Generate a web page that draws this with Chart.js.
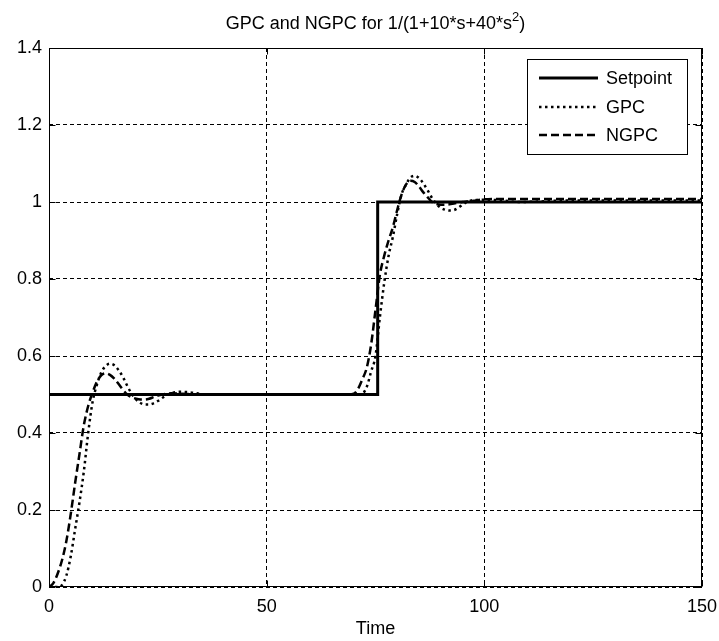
<!DOCTYPE html>
<html>
<head>
<meta charset="utf-8">
<title>GPC and NGPC</title>
<script src="https://cdn.jsdelivr.net/npm/chart.js@4.4.0/dist/chart.umd.min.js"></script>
<style>
body { margin: 0; background: #fff; }
</style>
</head>
<body>
<canvas id="chart" width="719" height="641"></canvas>
<script>
// sample times shared by the GPC and NGPC responses
const time = [0, 1, 2, 3, 4, 5, 6, 7, 8, 9, 10, 11, 12, 13, 14, 15, 16, 17, 18, 19, 20,
	21, 22, 23, 24, 25, 26, 27, 28, 30, 32, 34, 36, 40, 50, 60, 68, 70, 71, 72, 73, 74, 75,
	76, 77, 78, 79, 80, 81, 82, 83, 84, 85, 86, 87, 88, 89, 90, 91, 92, 93, 94, 95, 96, 97,
	98, 100, 104, 108, 112, 116, 120, 130, 140, 150]
const gpcValue = [0, 0, 0, 0.005, 0.03, 0.08, 0.15, 0.22, 0.3, 0.4, 0.48, 0.525, 0.557, 0.574, 0.58, 0.576, 0.563, 0.545, 0.522, 0.502, 0.487,
	0.478, 0.474, 0.474, 0.477, 0.483, 0.491, 0.498, 0.503, 0.507, 0.506, 0.503, 0.5, 0.5, 0.5, 0.5, 0.5, 0.5, 0.5, 0.502, 0.52, 0.56, 0.6,
	0.7, 0.79, 0.86, 0.91, 0.97, 1.02, 1.045, 1.063, 1.068, 1.062, 1.048, 1.03, 1.01, 0.995, 0.985, 0.98, 0.978, 0.979, 0.985, 0.993, 1.0, 1.004,
	1.005, 1.006, 1.004, 1.0, 1.001, 1.003, 1.004, 1.004, 1.004, 1.004]
const ngpcValue = [0, 0.01, 0.035, 0.07, 0.12, 0.19, 0.27, 0.345, 0.42, 0.47, 0.505, 0.533, 0.55, 0.555, 0.551, 0.541, 0.527, 0.512, 0.5, 0.493, 0.489,
	0.487, 0.487, 0.489, 0.493, 0.497, 0.5, 0.502, 0.503, 0.502, 0.501, 0.5, 0.5, 0.5, 0.5, 0.5, 0.5, 0.502, 0.515, 0.54, 0.57, 0.63, 0.72,
	0.81, 0.86, 0.9, 0.935, 0.98, 1.02, 1.045, 1.055, 1.052, 1.04, 1.025, 1.012, 1.0, 0.995, 0.993, 0.993, 0.994, 0.996, 0.998, 1.0, 1.001, 1.002,
	1.004, 1.007, 1.008, 1.008, 1.008, 1.008, 1.008, 1.008, 1.008, 1.008]
const setpointTime = [0, 75.5, 75.5, 150]
const setpointValue = [0.5, 0.5, 1, 1]

const xTicks = [0, 50, 100, 150]
const xTickLabels = ['0', '50', '100', '150']
const yTicks = [0, 0.2, 0.4, 0.6, 0.8, 1, 1.2, 1.4]
const yTickLabels = ['0', '0.2', '0.4', '0.6', '0.8', '1', '1.2', '1.4']

const titleText = 'GPC and NGPC for 1/(1+10*s+40*s'
const titleSup = '2'
const titleEnd = ')'
const xLabel = 'Time'
const FONT = '"Liberation Sans", Arial, sans-serif'

const toPoints = (xs, ys) => xs.map((x, i) => ({ x, y: ys[i] }))

// frame, inward ticks, title, x label and legend box (MATLAB look)
const matlabDecor = {
	id: 'matlabDecor',
	afterDraw(chart) {
		const { ctx, chartArea: a, scales } = chart
		ctx.save()
		ctx.strokeStyle = '#000'
		ctx.lineWidth = 1
		ctx.setLineDash([])
		const L = Math.round(a.left) + 0.5, R = Math.round(a.right) - 0.5
		const T = Math.round(a.top) + 0.5, B = Math.round(a.bottom) - 0.5
		ctx.strokeRect(L, T, R - L, B - T)
		ctx.beginPath()
		xTicks.forEach(v => {
			const px = Math.round(scales.x.getPixelForValue(v)) + 0.5
			ctx.moveTo(px, B); ctx.lineTo(px, B - 6)
			ctx.moveTo(px, T); ctx.lineTo(px, T + 6)
		})
		yTicks.forEach(v => {
			const py = Math.round(scales.y.getPixelForValue(v)) + 0.5
			ctx.moveTo(L, py); ctx.lineTo(L + 6, py)
			ctx.moveTo(R, py); ctx.lineTo(R - 6, py)
		})
		ctx.stroke()

		// title with superscript
		ctx.fillStyle = '#000'
		ctx.textBaseline = 'alphabetic'
		ctx.textAlign = 'left'
		ctx.font = '18px ' + FONT
		const w1 = ctx.measureText(titleText).width
		const w3 = ctx.measureText(titleEnd).width
		ctx.font = '13px ' + FONT
		const w2 = ctx.measureText(titleSup).width
		const cx = (a.left + a.right) / 2
		let tx = cx - (w1 + w2 + w3) / 2
		ctx.font = '18px ' + FONT
		ctx.fillText(titleText, tx, 29)
		ctx.font = '13px ' + FONT
		ctx.fillText(titleSup, tx + w1, 21)
		ctx.font = '18px ' + FONT
		ctx.fillText(titleEnd, tx + w1 + w2, 29)

		// x axis label
		ctx.textAlign = 'center'
		ctx.textBaseline = 'middle'
		ctx.fillText(xLabel, cx, 629)

		// legend
		const box = { x: 527, y: 59, w: 160, h: 95 }
		ctx.fillStyle = '#fff'
		ctx.fillRect(box.x, box.y, box.w, box.h)
		ctx.strokeRect(box.x + 0.5, box.y + 0.5, box.w, box.h)
		const rows = [78, 107, 135]
		chart.data.datasets.forEach((ds, i) => {
			ctx.save()
			ctx.strokeStyle = ds.borderColor
			ctx.lineWidth = ds.borderWidth
			ctx.setLineDash(ds.borderDash || [])
			ctx.beginPath()
			ctx.moveTo(539, rows[i]); ctx.lineTo(598, rows[i])
			ctx.stroke()
			ctx.restore()
			ctx.fillStyle = '#000'
			ctx.textAlign = 'left'
			ctx.fillText(ds.label, 606, rows[i] + 1)
		})
		ctx.restore()
	}
}

new Chart(document.getElementById('chart'), {
	type: 'line',
	data: {
		datasets: [
			{
				label: 'Setpoint',
				data: toPoints(setpointTime, setpointValue),
				borderColor: '#000',
				borderWidth: 3,
				tension: 0,
				order: 3
			},
			{
				label: 'GPC',
				data: toPoints(time, gpcValue),
				borderColor: '#000',
				borderWidth: 2.5,
				borderDash: [2.5, 3.5],
				cubicInterpolationMode: 'monotone',
				order: 2
			},
			{
				label: 'NGPC',
				data: toPoints(time, ngpcValue),
				borderColor: '#000',
				borderWidth: 2.5,
				borderDash: [8, 4],
				cubicInterpolationMode: 'monotone',
				order: 1
			}
		]
	},
	options: {
		responsive: false,
		animation: false,
		elements: { point: { radius: 0 } },
		layout: { padding: { top: 48, right: 17, left: 0, bottom: 0 } },
		plugins: { legend: { display: false }, tooltip: { enabled: false } },
		scales: {
			x: {
				type: 'linear',
				min: 0,
				max: 150,
				afterFit: s => { s.height = 54; s.paddingLeft = 0; s.paddingRight = 0 },
				afterBuildTicks: s => { s.ticks = xTicks.map(v => ({ value: v })) },
				grid: { color: '#000', lineWidth: 1, drawTicks: false },
				border: { display: false, dash: [4, 3] },
				ticks: {
					padding: 9,
					color: '#000',
					font: { family: FONT, size: 18 },
					maxRotation: 0,
					callback: (v, i) => xTickLabels[i]
				}
			},
			y: {
				type: 'linear',
				min: 0,
				max: 1.4,
				afterFit: s => { s.width = 49; s.paddingTop = 0; s.paddingBottom = 0 },
				afterBuildTicks: s => { s.ticks = yTicks.map(v => ({ value: v })) },
				grid: { color: '#000', lineWidth: 1, drawTicks: false },
				border: { display: false, dash: [4, 3] },
				ticks: {
					padding: 7,
					color: '#000',
					font: { family: FONT, size: 18 },
					callback: (v, i) => yTickLabels[i]
				}
			}
		}
	},
	plugins: [matlabDecor]
});
</script>
</body>
</html>
